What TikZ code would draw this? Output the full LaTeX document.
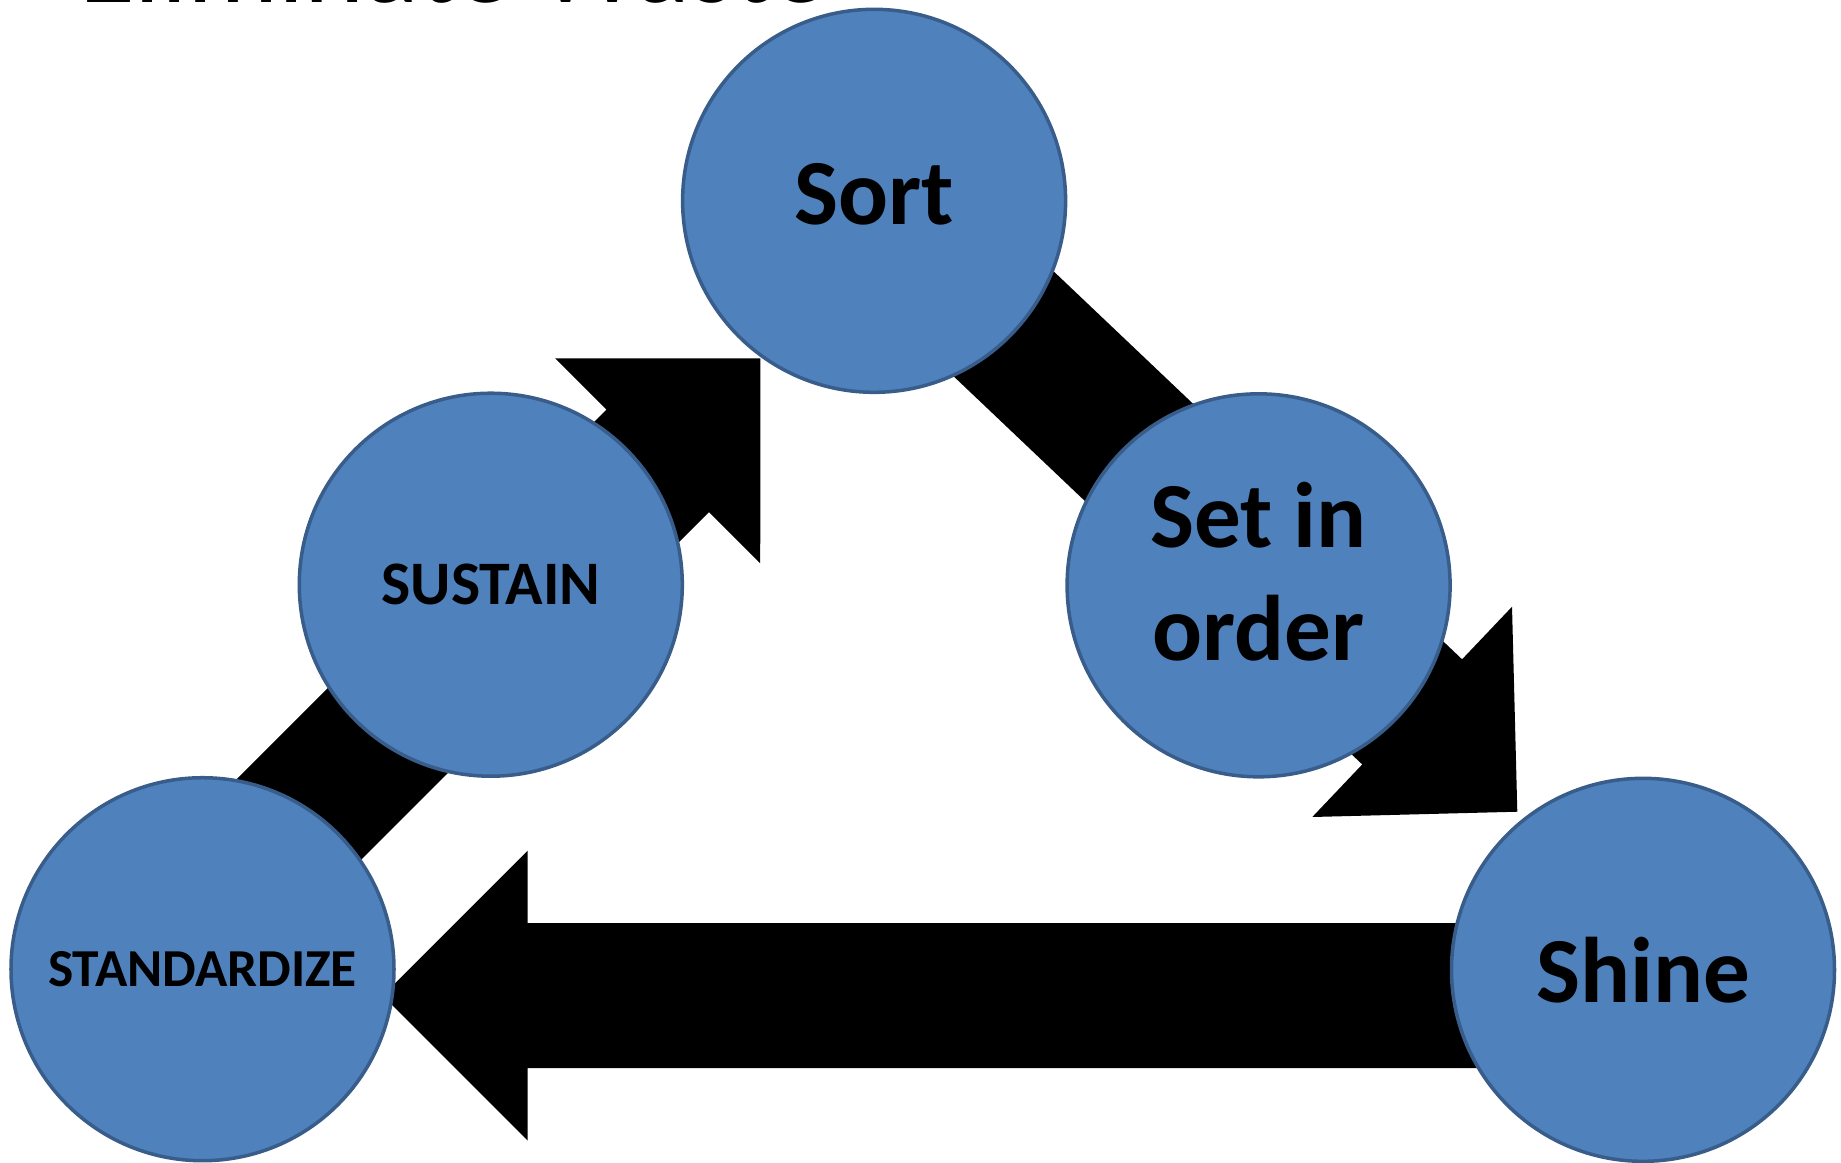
\documentclass[tikz,border=0pt]{standalone}
\usepackage{fontspec}
\setmainfont{Carlito}
\usetikzlibrary{calc,backgrounds}
\definecolor{stagefill}{HTML}{4F81BD}
\definecolor{stageline}{HTML}{385D8A}
\newcommand{\blockarrow}[2]{%
  \fill[arrowb] let \p1=($(#2)-(#1)$), \n1={atan2(\y1,\x1)} in
    ($(#1)+({\n1+90}:0.725)$) -- ($(#2)+({\n1+180}:1.45)+({\n1+90}:0.725)$)
    -- ($(#2)+({\n1+180}:1.45)+({\n1+90}:1.45)$) -- (#2)
    -- ($(#2)+({\n1+180}:1.45)+({\n1-90}:1.45)$)
    -- ($(#2)+({\n1+180}:1.45)+({\n1-90}:0.725)$)
    -- ($(#1)+({\n1-90}:0.725)$) -- cycle;}

\begin{document}
\begin{tikzpicture}[
        bluen/.style={circle, draw=stageline, fill=stagefill, line width=1pt, minimum size=3.83cm, inner sep=0pt, align=center},
        bign/.style={font=\bfseries\fontsize{26.5}{32.4}\selectfont},
        midn/.style={font=\bfseries\fontsize{17.6}{21}\selectfont},
        smalln/.style={font=\bfseries\fontsize{15.2}{18}\selectfont},
        arrowb/.style={fill=black},
    ]
    \useasboundingbox (0,0) rectangle (18.41,-11.62);
    \node[anchor=base, font=\fontsize{32.5}{38}\selectfont](title) at (4.535,-0.02){Eliminate Waste};
    \node[bluen, bign, text depth=0.14cm](sort) at (8.741,-2.008){Sort};
    \node[bluen, bign](setorder) at (12.586,-5.853){Set in\\order\rule[-0.28cm]{0pt}{0.28cm}};
    \node[bluen, bign](shine) at (16.43,-9.698){Shine};
    \node[bluen, smalln](standard) at (2.025,-9.692){STANDARDIZE};
    \node[bluen, midn](sustain) at (4.908,-5.847){SUSTAIN};
    \coordinate (tipA) at (15.173,-8.117);
    \coordinate (tailB) at (16.43,-9.956);
    \coordinate (tipB) at (3.827,-9.956);
    \coordinate (tailC) at (1.758,-9.4245);
    \coordinate (tipC) at (7.603,-3.583);
    \begin{pgfonlayer}{background}
        \blockarrow{sort}{tipA}
        \blockarrow{tailB}{tipB}
        \blockarrow{tailC}{tipC}
    \end{pgfonlayer}
\end{tikzpicture}
\end{document}
